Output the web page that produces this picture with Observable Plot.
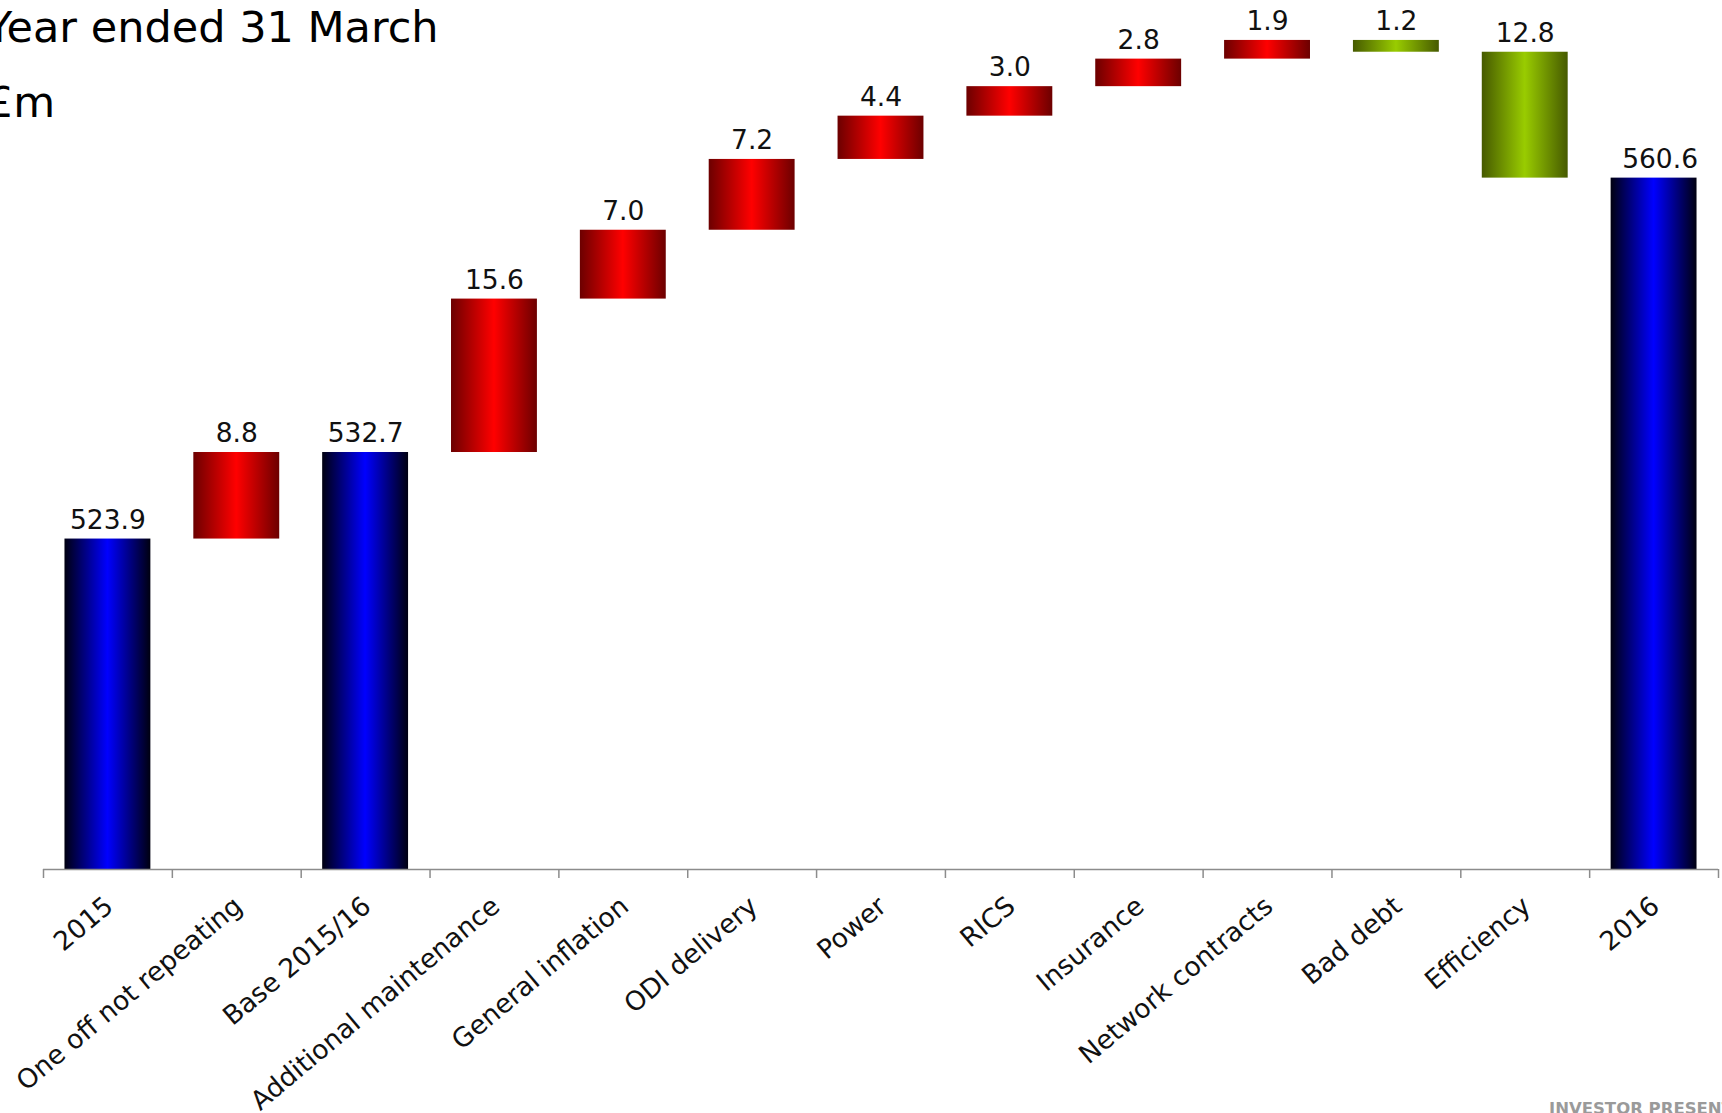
<!DOCTYPE html>
<html><head><meta charset="utf-8">
<script src="https://cdn.jsdelivr.net/npm/d3@7"></script>
<script src="https://cdn.jsdelivr.net/npm/@observablehq/plot@0.6"></script>
<style>
html,body{margin:0;padding:0;background:#fff;overflow:hidden;width:1722px;height:1113px}
#wrap{position:relative;width:1722px;height:1113px;font-family:"DejaVu Sans",sans-serif}
#wrap svg{display:block}
.t{position:absolute;line-height:1;white-space:nowrap;color:#000}
</style></head><body>
<div id="wrap">
<div class="t" style="left:-14px;top:6px;font-size:43px">Year ended 31 March</div>
<div class="t" style="left:-14px;top:81px;font-size:43px">£m</div>
<div class="t" style="left:1549px;top:1101px;font-size:16.5px;font-weight:bold;color:#9a9a9a">INVESTOR PRESENTATION</div>
</div>
<script>
const categories = ["2015", "One off not repeating", "Base 2015/16", "Additional maintenance", "General inflation", "ODI delivery", "Power", "RICS", "Insurance", "Network contracts", "Bad debt", "Efficiency", "2016"];
const values = [523.9, 8.8, 532.7, 15.6, 7.0, 7.2, 4.4, 3.0, 2.8, 1.9, -1.2, -12.8, 560.6];
const kinds = ["total", "increase", "total", "increase", "increase", "increase", "increase", "increase", "increase", "increase", "decrease", "decrease", "total"];
const axisMin = 490.3;
const axisMax = 575;

let running = 0;
const rows = categories.map((c, i) => {
  const v = values[i], k = kinds[i];
  let y1, y2;
  if (k === "total") { y1 = axisMin; y2 = v; running = v; }
  else { y1 = running; y2 = running + v; running = y2; }
  return {category: c, kind: k, y1, y2, top: Math.max(y1, y2), label: Math.abs(v).toFixed(1)};
});

const W = 1722, H = 1113, mL = 43, mR = 4;
const step = (W - mL - mR) / categories.length;
const axisColor = "#8c8c8c";
const lastCat = categories[categories.length - 1];

const chart = Plot.plot({
  width: W, height: H,
  marginLeft: mL, marginRight: mR, marginTop: 36, marginBottom: 244,
  x: {type: "band", domain: categories, paddingInner: 1/3, paddingOuter: 1/6, round: false, axis: null},
  y: {domain: [axisMin, axisMax], axis: null},
  style: {fontFamily: "DejaVu Sans", background: "white", overflow: "visible"},
  marks: [
    Plot.barY(rows.filter(d => d.kind === "total"), {x: "category", y1: "y1", y2: "y2", fill: "url(#g-total)"}),
    Plot.barY(rows.filter(d => d.kind === "increase"), {x: "category", y1: "y1", y2: "y2", fill: "url(#g-increase)"}),
    Plot.barY(rows.filter(d => d.kind === "decrease"), {x: "category", y1: "y1", y2: "y2", fill: "url(#g-decrease)"}),
    Plot.ruleY([axisMin], {stroke: axisColor, strokeWidth: 1.5}),
    Plot.ruleX(categories, {x: d => d, y1: () => axisMin, y2: () => axisMin, insetBottom: -9, dx: -step / 2, stroke: axisColor, strokeWidth: 1.5}),
    Plot.ruleX([lastCat], {x: d => d, y1: () => axisMin, y2: () => axisMin, insetBottom: -9, dx: step / 2, stroke: axisColor, strokeWidth: 1.5}),
    Plot.text(rows.filter(d => d.category !== lastCat), {x: "category", y: "top", text: "label", dy: -19, fontSize: 26.5, fill: "#111"}),
    Plot.text(rows.filter(d => d.category === lastCat), {x: "category", y: "top", text: "label", dy: -19, dx: 6, fontSize: 26.5, fill: "#111"}),
    Plot.text(categories, {x: d => d, y: () => axisMin, text: d => d, rotate: -40, textAnchor: "end", lineAnchor: "top", dx: -5, dy: 25, fontSize: 26.5, fill: "#111"})
  ]
});

const svg = d3.select(chart);
const defs = svg.insert("defs", ":first-child");
[["g-total", "#000010", "#0000ff"], ["g-increase", "#6c0000", "#ff0000"], ["g-decrease", "#465a00", "#99cc00"]].forEach(([id, edge, mid]) => {
  const g = defs.append("linearGradient").attr("id", id).attr("x1", 0).attr("x2", 1).attr("y1", 0).attr("y2", 0);
  g.append("stop").attr("offset", "0%").attr("stop-color", edge);
  g.append("stop").attr("offset", "50%").attr("stop-color", mid);
  g.append("stop").attr("offset", "100%").attr("stop-color", edge);
});

const wrap = document.getElementById("wrap");
wrap.insertBefore(chart, wrap.firstChild);
</script>
</body></html>
